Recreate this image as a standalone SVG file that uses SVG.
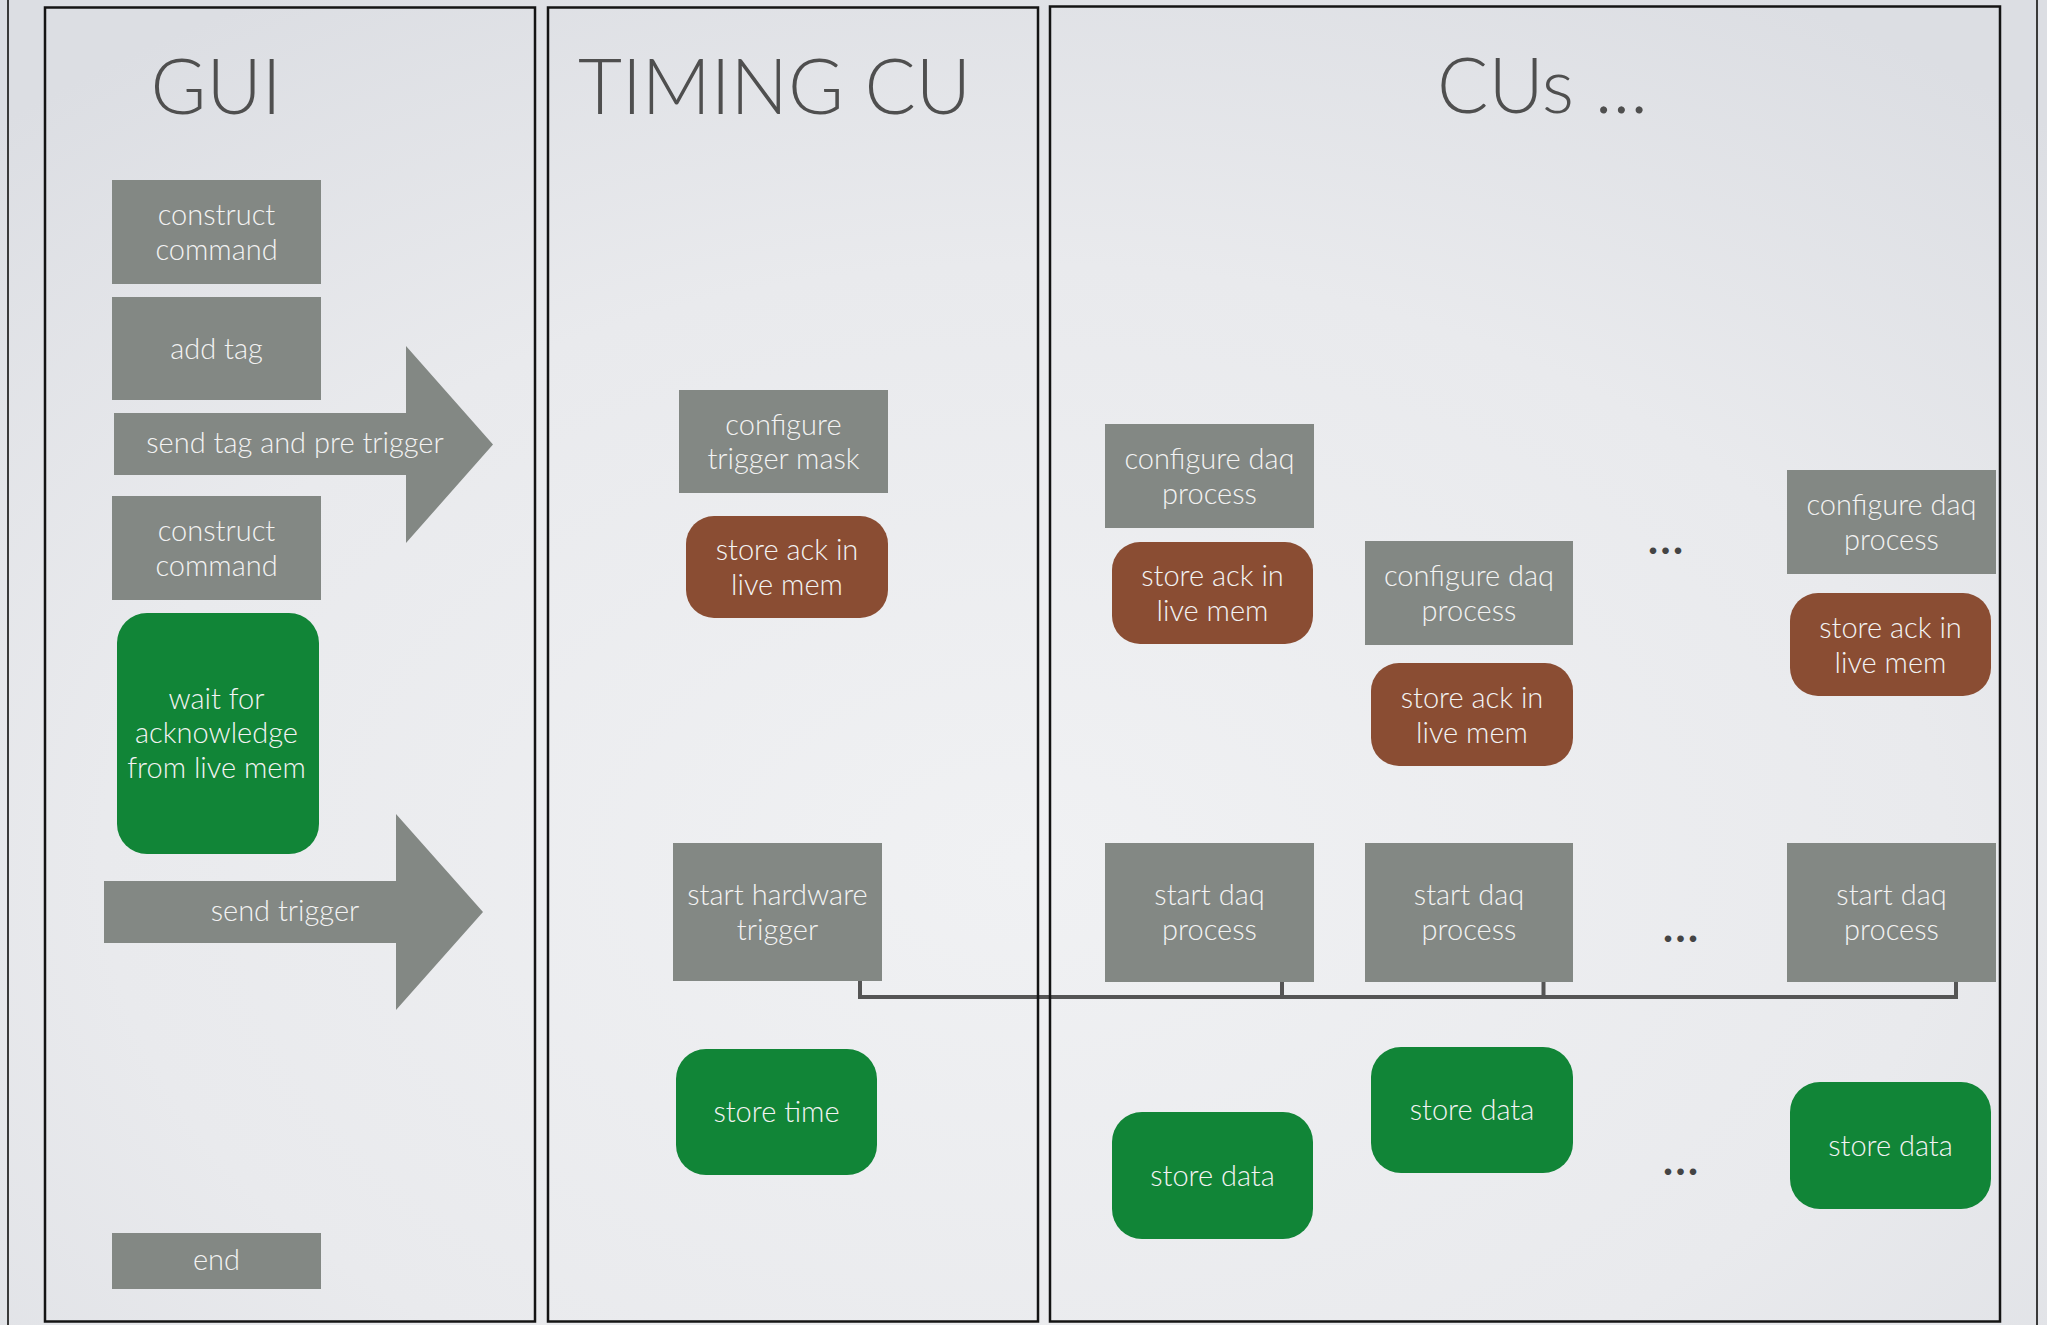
<svg xmlns="http://www.w3.org/2000/svg" width="2047" height="1325" viewBox="0 0 2047 1325">
<defs>
<radialGradient id="bg" cx="0.5" cy="0.65" r="0.75">
<stop offset="0" stop-color="#f0f1f3"/>
<stop offset="0.6" stop-color="#e9eaed"/>
<stop offset="1" stop-color="#dcdee3"/>
</radialGradient>
</defs>
<style>
.panel{fill:none;stroke:#141414;stroke-width:2.5}
.edge{stroke:#3a3a3a;stroke-width:2}
.title{font-family:Lato,"Liberation Sans",sans-serif;font-weight:300;font-size:76px;fill:#4f4f4f;text-anchor:middle}
.lbl{font-family:Lato,"Liberation Sans",sans-serif;font-weight:300;font-size:29px;fill:#f3f3f3;text-anchor:middle}
.gray{fill:#838884}
.green{fill:#118537}
.brown{fill:#8a4d33}
.dots{font-family:Lato,"Liberation Sans",sans-serif;font-weight:900;font-size:40px;fill:#444;text-anchor:middle;letter-spacing:3px}
.conn{fill:none;stroke:#555;stroke-width:4}
</style>
<rect x="0" y="0" width="2047" height="1325" fill="url(#bg)"/>
<line class="edge" x1="8" y1="0" x2="8" y2="1325"/>
<line class="edge" x1="2037" y1="0" x2="2037" y2="1325"/>

<g id="connectors">
<polyline class="conn" points="860,965 860,997 1958,997"/>
<line class="conn" x1="1282" y1="965" x2="1282" y2="997"/>
<line class="conn" x1="1543.5" y1="962" x2="1543.5" y2="997"/>
<line class="conn" x1="1956" y1="962" x2="1956" y2="997"/>
</g>

<g id="panels">
<rect class="panel" x="45" y="7.5" width="490" height="1314"/>
<rect class="panel" x="548" y="7.5" width="490" height="1314"/>
<rect class="panel" x="1050" y="6.5" width="950" height="1315"/>
</g>

<text class="title" x="216" y="114">GUI</text>
<text class="title" x="774.5" y="114">TIMING CU</text>
<text class="title" x="1542.5" y="113">CUs ...</text>

<g id="gui-construct-1"><rect class="gray" x="112" y="180" width="209" height="104"/><text class="lbl" x="216.5" y="225">construct</text><text class="lbl" x="216.5" y="260">command</text></g>
<g id="gui-add-tag"><rect class="gray" x="112" y="297" width="209" height="103"/><text class="lbl" x="216.5" y="359">add tag</text></g>
<g id="gui-send-tag"><polygon class="gray" points="114,413 406,413 406,346 493,444.5 406,543 406,475 114,475"/><text class="lbl" x="295" y="453">send tag and pre trigger</text></g>
<g id="gui-construct-2"><rect class="gray" x="112" y="496" width="209" height="104"/><text class="lbl" x="216.5" y="541">construct</text><text class="lbl" x="216.5" y="576">command</text></g>
<g id="gui-wait"><rect class="green" x="117" y="613" width="202" height="241" rx="30"/><text class="lbl" x="216.5" y="709">wait for</text><text class="lbl" x="216.5" y="743">acknowledge</text><text class="lbl" x="216.5" y="778">from live mem</text></g>
<g id="gui-send-trigger"><polygon class="gray" points="104,881 396,881 396,814 483,912 396,1010 396,943 104,943"/><text class="lbl" x="285" y="921">send trigger</text></g>
<g id="gui-end"><rect class="gray" x="112" y="1233" width="209" height="56"/><text class="lbl" x="216.5" y="1270">end</text></g>

<g id="t-config"><rect class="gray" x="679" y="390" width="209" height="103"/><text class="lbl" x="783.5" y="435">configure</text><text class="lbl" x="783.5" y="469">trigger mask</text></g>
<g id="t-ack"><rect class="brown" x="686" y="516" width="202" height="102" rx="28"/><text class="lbl" x="787" y="560">store ack in</text><text class="lbl" x="787" y="595">live mem</text></g>
<g id="t-start"><rect class="gray" x="673" y="843" width="209" height="138"/><text class="lbl" x="777.5" y="905">start hardware</text><text class="lbl" x="777.5" y="940">trigger</text></g>
<g id="t-store"><rect class="green" x="676" y="1049" width="201" height="126" rx="30"/><text class="lbl" x="776.5" y="1122">store time</text></g>

<g id="cu1-config"><rect class="gray" x="1105" y="424" width="209" height="104"/><text class="lbl" x="1209.5" y="469">configure daq</text><text class="lbl" x="1209.5" y="504">process</text></g>
<g id="cu1-ack"><rect class="brown" x="1112" y="542" width="201" height="102" rx="28"/><text class="lbl" x="1212.5" y="586">store ack in</text><text class="lbl" x="1212.5" y="621">live mem</text></g>
<g id="cu2-config"><rect class="gray" x="1365" y="541" width="208" height="104"/><text class="lbl" x="1469" y="586">configure daq</text><text class="lbl" x="1469" y="621">process</text></g>
<g id="cu2-ack"><rect class="brown" x="1371" y="663" width="202" height="103" rx="28"/><text class="lbl" x="1472" y="708">store ack in</text><text class="lbl" x="1472" y="743">live mem</text></g>
<g id="cu-dots-1"><text class="dots" x="1667" y="554">...</text></g>
<g id="cu3-config"><rect class="gray" x="1787" y="470" width="209" height="104"/><text class="lbl" x="1891.5" y="515">configure daq</text><text class="lbl" x="1891.5" y="550">process</text></g>
<g id="cu3-ack"><rect class="brown" x="1790" y="593" width="201" height="103" rx="28"/><text class="lbl" x="1890.5" y="638">store ack in</text><text class="lbl" x="1890.5" y="673">live mem</text></g>

<g id="cu1-start"><rect class="gray" x="1105" y="843" width="209" height="139"/><text class="lbl" x="1209.5" y="905">start daq</text><text class="lbl" x="1209.5" y="940">process</text></g>
<g id="cu2-start"><rect class="gray" x="1365" y="843" width="208" height="139"/><text class="lbl" x="1469" y="905">start daq</text><text class="lbl" x="1469" y="940">process</text></g>
<g id="cu-dots-2"><text class="dots" x="1682" y="942">...</text></g>
<g id="cu3-start"><rect class="gray" x="1787" y="843" width="209" height="139"/><text class="lbl" x="1891.5" y="905">start daq</text><text class="lbl" x="1891.5" y="940">process</text></g>

<g id="cu1-store"><rect class="green" x="1112" y="1112" width="201" height="127" rx="30"/><text class="lbl" x="1212.5" y="1186">store data</text></g>
<g id="cu2-store"><rect class="green" x="1371" y="1047" width="202" height="126" rx="30"/><text class="lbl" x="1472" y="1120">store data</text></g>
<g id="cu-dots-3"><text class="dots" x="1682" y="1175">...</text></g>
<g id="cu3-store"><rect class="green" x="1790" y="1082" width="201" height="127" rx="30"/><text class="lbl" x="1890.5" y="1156">store data</text></g>
</svg>
